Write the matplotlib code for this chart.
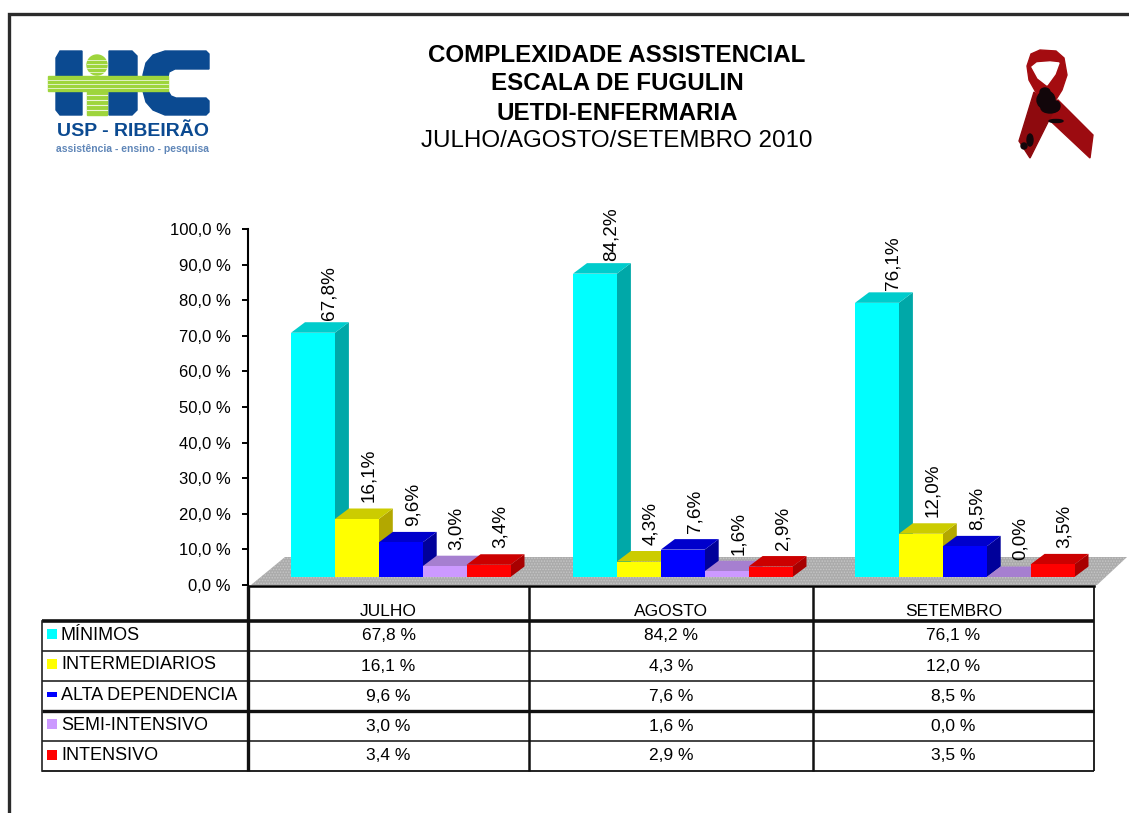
import matplotlib
matplotlib.use('Agg')
import matplotlib.pyplot as plt
from matplotlib.patches import Polygon, Rectangle, Circle, Ellipse

plt.rcParams['font.family'] = ['Liberation Sans', 'DejaVu Sans']
plt.rcParams['hatch.linewidth'] = 0.7

meses = ['JULHO', 'AGOSTO', 'SETEMBRO']
categorias = ['MÍNIMOS', 'INTERMEDIARIOS', 'ALTA DEPENDENCIA', 'SEMI-INTENSIVO', 'INTENSIVO']
minimos = [67.8, 84.2, 76.1]
intermediarios = [16.1, 4.3, 12.0]
alta_dependencia = [9.6, 7.6, 8.5]
semi_intensivo = [3.0, 1.6, 0.0]
intensivo = [3.4, 2.9, 3.5]
series = [minimos, intermediarios, alta_dependencia, semi_intensivo, intensivo]
yticks = [0, 10, 20, 30, 40, 50, 60, 70, 80, 90, 100]

cor_frente = ['#00ffff', '#ffff00', '#0000ff', '#cc99ff', '#ff0000']
cor_topo = ['#00cccc', '#cccc00', '#0000cc', '#a67fd0', '#cc0000']
cor_lado = ['#00a8a8', '#b3a800', '#00009a', '#8c6bb0', '#a80000']

W, H = 1129, 813
fig = plt.figure(figsize=(W / 100, H / 100), dpi=100)

# eixo em pixels para moldura, logos e tabela
bg = fig.add_axes([0, 0, 1, 1])
bg.set_xlim(0, W)
bg.set_ylim(H, 0)
bg.axis('off')

bg.plot([9, 9, W], [H, 14, 14], color='#2b2b2b', lw=2.4, solid_joinstyle='miter')

# titulo
bg.text(617, 55, 'COMPLEXIDADE ASSISTENCIAL', ha='center', va='center', fontsize=17.4, fontweight='bold')
bg.text(617, 84, 'ESCALA DE FUGULIN', ha='center', va='center', fontsize=17.4, fontweight='bold')
bg.text(617, 113, 'UETDI-ENFERMARIA', ha='center', va='center', fontsize=17.4, fontweight='bold')
bg.text(617, 141, 'JULHO/AGOSTO/SETEMBRO 2010', ha='center', va='center', fontsize=17.4)

# logo HC
azul = '#0b4a91'
verde = '#9ed53c'
bg.add_patch(Polygon([(56, 58), (60, 51), (82, 51), (82, 115), (60, 115), (56, 110)], color=azul))
bg.add_patch(Polygon([(109, 51), (132, 51), (137, 56), (137, 77), (137, 110), (132, 115), (109, 115)], color=azul))
bg.add_patch(Polygon([(143, 75), (146, 63), (153, 55), (165, 51), (206, 51), (209, 54), (209, 69), (175, 69),
                      (169, 72), (168, 77), (168, 91), (171, 96), (176, 98), (206, 98), (209, 101), (209, 112),
                      (206, 115), (165, 115), (153, 110), (146, 102), (143, 91)], color=azul))
bg.add_patch(Rectangle((48, 76), 120, 15, color=verde))
bg.add_patch(Circle((97, 65), 10, color=verde))
bg.add_patch(Rectangle((87, 91), 20, 24, color=verde))
for y in [80, 84, 88]:
    bg.plot([48, 168], [y, y], color='white', lw=0.6, alpha=0.8)
for y in [60, 64, 68, 72]:
    bg.plot([87, 107], [y, y], color='white', lw=0.6, alpha=0.8)
for y in [95, 100, 105, 110]:
    bg.plot([87, 107], [y, y], color='white', lw=0.8, alpha=0.8)
bg.text(133, 131, 'USP - RIBEIRÃO', ha='center', va='center', fontsize=14, fontweight='bold', color=azul)
bg.text(133, 149, 'assistência - ensino - pesquisa', ha='center', va='center', fontsize=7.5, fontweight='bold',
        color='#5f86b8')

# laco vermelho
vinho = '#8e0a0e'
bg.add_patch(Polygon([(1058, 100), (1093, 135), (1090, 158), (1042, 113)], color='#9c0b10'))
bg.add_patch(Polygon([(1034, 92), (1053, 112), (1030, 158), (1019, 141)], color=vinho))
bg.add_patch(Polygon([(1027, 66), (1031, 54), (1040, 50), (1056, 51), (1064, 58), (1067, 75), (1062, 90), (1052, 106),
                      (1038, 96), (1029, 80)], color='#a40c10'))
bg.add_patch(Polygon([(1032, 67), (1037, 63), (1050, 62), (1059, 63), (1055, 74), (1047, 85), (1038, 78)], color='white'))
for cx, cy, w_, h_ in [(1046, 100, 18, 18), (1050, 108, 18, 10), (1045, 92, 10, 8), (1056, 106, 8, 10),
                       (1030, 140, 6, 12), (1024, 146, 6, 6), (1056, 121, 14, 3)]:
    bg.add_patch(Ellipse((cx, cy), w_, h_, color='#12060a'))

# piso cinza
bg.add_patch(Polygon([(251, 585), (285, 557), (1127, 557), (1097, 585)], facecolor='#ababab',
                     edgecolor='#c6c6c6', hatch='......', lw=0))

# grafico
x0, x1, y_top, y_zero = 248, 1094, 229, 585
ax = fig.add_axes([x0 / W, 1 - y_zero / H, (x1 - x0) / W, (y_zero - y_top) / H])
ax.patch.set_alpha(0)
ax.set_xlim(0, 3)
ax.set_ylim(0, 100)
for s in ['top', 'right', 'bottom']:
    ax.spines[s].set_visible(False)
ax.spines['left'].set_linewidth(1.5)
ax.set_xticks([])
ax.set_yticks(yticks)
ax.set_yticklabels(['%d,0 %%' % t for t in yticks], fontsize=12)
ax.tick_params(axis='y', length=4.5, width=1.4, pad=8)

px_x = 3 / (x1 - x0)
px_y = 100 / (y_zero - y_top)
base = 8 * px_y
escala = 1.012
largura = 43.9 * px_x
dx = 14 * px_x
dy = 10.5 * px_y
inicio = 43 * px_x

for k, serie in enumerate(series):
    for i, v in enumerate(serie):
        esq = i + inicio + k * largura
        dir_ = esq + largura
        topo = base + v * escala
        ax.add_patch(Polygon([(dir_, base), (dir_ + dx, base + dy), (dir_ + dx, topo + dy), (dir_, topo)],
                             color=cor_lado[k], lw=0, zorder=3 + k))
        ax.add_patch(Polygon([(esq, topo), (esq + dx, topo + dy), (dir_ + dx, topo + dy), (dir_, topo)],
                             color=cor_topo[k], lw=0, zorder=3 + k))
        ax.add_patch(Rectangle((esq, base), largura, v * escala, color=cor_frente[k], lw=0, zorder=3 + k))
        folga = 0.6 if k == 0 else 1.7
        desvio = 2 if k == 0 else -2
        ax.text(esq + largura / 2 + dx + desvio * px_x, topo + dy + folga, ('%.1f%%' % v).replace('.', ','),
                rotation=90, ha='center', va='bottom', fontsize=13.6, zorder=10, clip_on=False)

# tabela
colunas = [248, 529, 813, 1094]
linhas = [621, 651, 681, 711, 741, 771]
centros_y = [635, 666, 696, 726, 755]
legenda_y = [635, 664, 695, 725, 755]
amostra_y = [634, 664, 694, 724, 755]
amostra_h = [10, 10, 5, 10, 10]
bg.plot([248, 1094], [586, 586], color='black', lw=1.8)
for y, lw in zip(linhas, [2.6, 1.1, 1.1, 2.4, 1.1, 1.3]):
    bg.plot([42, 1094], [y, y], color='#111111', lw=lw, solid_capstyle='butt')
bg.plot([42, 42], [621, 771], color='#222222', lw=1.2)
for x, lw in zip(colunas, [2.4, 1.8, 1.8, 1.3]):
    bg.plot([x, x], [586, 771], color='#111111', lw=lw, solid_capstyle='butt')

for i, m in enumerate(meses):
    bg.text((colunas[i] + colunas[i + 1]) / 2, 611, m, ha='center', va='center', fontsize=12.5)
    for k, serie in enumerate(series):
        bg.text((colunas[i] + colunas[i + 1]) / 2, centros_y[k], ('%.1f %%' % serie[i]).replace('.', ','),
                ha='center', va='center', fontsize=12.5)
for k, nome in enumerate(categorias):
    bg.add_patch(Rectangle((47, amostra_y[k] - amostra_h[k] / 2), 10, amostra_h[k], color=cor_frente[k], lw=0))
    bg.text(61, legenda_y[k], nome, ha='left', va='center', fontsize=13)

fig.savefig('out.png', dpi=100)
